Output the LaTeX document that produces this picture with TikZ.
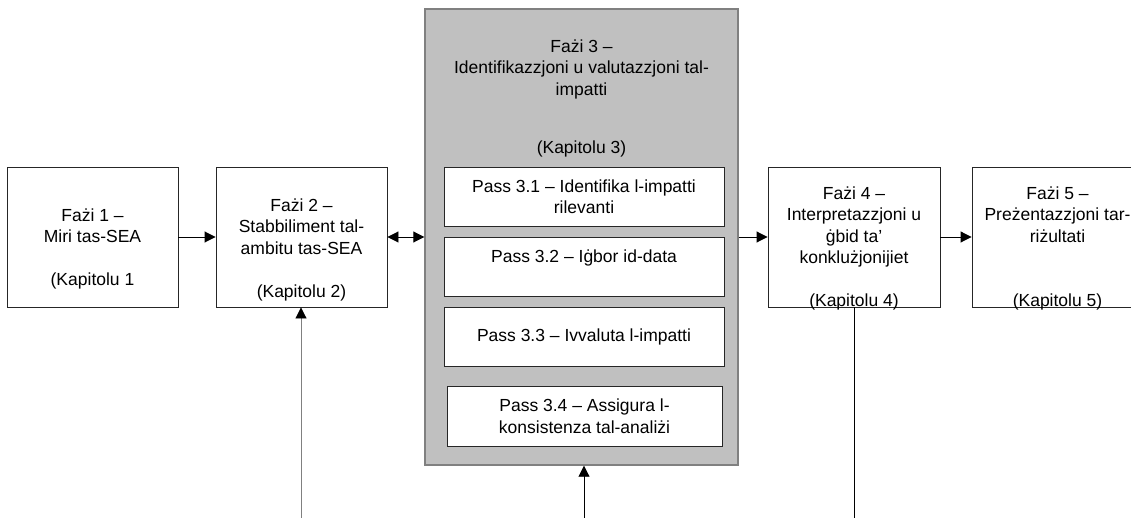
\documentclass[tikz,border=0pt]{standalone}
\usepackage{fontspec}
\setmainfont{Liberation Sans}
\usetikzlibrary{arrows.meta}
\definecolor{phasefill}{RGB}{192,192,192}
\definecolor{phaseedge}{RGB}{128,128,128}
\begin{document}
\begin{tikzpicture}[x=1pt,y=-1pt,
    font=\fontsize{17.5}{21.5}\selectfont,
    phase/.style={draw=black!85,line width=0.9pt,fill=white,inner sep=0pt,minimum width=171pt,minimum height=140pt},
    phasetext/.style={anchor=north,align=center,inner sep=0pt},
    passbox/.style={draw=black!85,line width=0.9pt,fill=white,inner sep=0pt,align=center,minimum width=280pt,minimum height=59pt},
    arr/.style={line width=0.9pt,-{Triangle[length=11pt,width=11pt,color=black]}}]
  \useasboundingbox (0,0) rectangle (1131,518);
  \draw
    (92.5,237) node[phase] (f1){}
    (301.5,237) node[phase] (f2){}
    (581.5,237) node[phase,fill=phasefill,draw=phaseedge,line width=1.4pt,minimum width=313pt,minimum height=456pt] (f3){}
    (854,237) node[phase,minimum width=172pt] (f4){}
    (1057.5,237) node[phase] (f5){};
  \draw
    (92.5,208.5) node[phasetext] (t1){Fażi 1 –\\Miri tas-SEA\\[21.5pt](Kapitolu 1}
    (301.5,198.5) node[phasetext] (t2){Fażi 2 –\\Stabbiliment tal-\\ambitu tas-SEA\\[21.5pt](Kapitolu 2)}
    (581.5,39.5) node[phasetext] (t3){Fażi 3 –\\Identifikazzjoni u valutazzjoni tal-\\impatti\\[36.5pt](Kapitolu 3)}
    (854,186.5) node[phasetext] (t4){Fażi 4 –\\Interpretazzjoni u\\ġbid ta’\\konklużjonijiet\\[21.5pt](Kapitolu 4)}
    (1057.5,186.5) node[phasetext] (t5){Fażi 5 –\\Preżentazzjoni tar-\\riżultati\\[43pt](Kapitolu 5)};
  \draw
    (584,196.5) node[passbox] (p1){Pass 3.1 – Identifika l-impatti\\rilevanti}
    (584,266.5) node[passbox] (p2){Pass 3.2 – Iġbor id-data\\\mbox{}}
    (584,336.5) node[passbox] (p3){Pass 3.3 – Ivvaluta l-impatti}
    (584.5,416) node[passbox,minimum width=275pt,minimum height=60pt] (p4){Pass 3.4 – Assigura l-\\konsistenza tal-analiżi};
  \coordinate (b2) at (301,518);
  \coordinate (b3) at (584,518);
  \coordinate (b4) at (854,518);
  \begin{scope}[arr]
    \draw (f1) to (f2);
    \draw[{Triangle[length=11pt,width=11pt]}-{Triangle[length=11pt,width=11pt]}] (f2) to (f3);
    \draw (f3) to (f4);
    \draw (f4) to (f5);
    \draw[phaseedge] (b2) to (b2 |- f2.south);
    \draw (b3) to (b3 |- f3.south);
  \end{scope}
  \draw[line width=0.9pt] (f4.south) to (b4);
\end{tikzpicture}
\end{document}
